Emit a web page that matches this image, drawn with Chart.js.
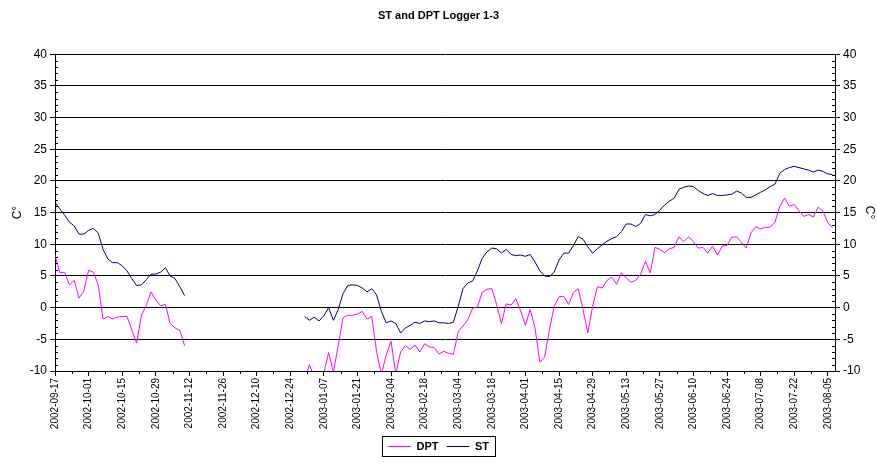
<!DOCTYPE html>
<html>
<head>
<meta charset="utf-8">
<title>ST and DPT Logger 1-3</title>
<script src="https://cdn.jsdelivr.net/npm/chart.js@4.4.1/dist/chart.umd.min.js"></script>
<style>
  html, body { margin: 0; padding: 0; background: #fff; }
  #wrap { width: 877px; height: 462px; }
</style>
</head>
<body>
<div id="wrap"><canvas id="grafico" width="877" height="462"></canvas></div>
<script>

//--------------------------------------------------
// DADOS
//--------------------------------------------------

// one reading every 2 days, starting 2002-09-17 (day 0)
const dayStep = 2;

const tickDates = [
  '2002-09-17', '2002-10-01', '2002-10-15', '2002-10-29', '2002-11-12',
  '2002-11-26', '2002-12-10', '2002-12-24', '2003-01-07', '2003-01-21',
  '2003-02-04', '2003-02-18', '2003-03-04', '2003-03-18', '2003-04-01',
  '2003-04-15', '2003-04-29', '2003-05-13', '2003-05-27', '2003-06-10',
  '2003-06-24', '2003-07-08', '2003-07-22', '2003-08-05'
];

const seriesNames = ['DPT', 'ST'];

const dptValues = [
  // 2002-09-17 .. 2002-11-10
  8.3, 5.5, 5.6, 3.6, 4.3, 1.5, 2.6, 5.9, 5.6, 3.6,
  -1.8, -1.4, -1.8, -1.5, -1.4, -1.4, -3.5, -5.6, -1.2, 0.3,
  2.5, 1.2, 0.3, 0.5, -2.5, -3.2, -3.6, -6.0,
  // no data
  null, null, null, null, null, null, null, null, null, null, null, null,
  null, null, null, null, null, null, null, null, null, null, null, null,
  // 2002-12-30 .. 2003-08-07
  -11.5, -9.0, -11, -12, -10.3, -7.1, -10.2, -6.0, -1.6, -1.2,
  -1.2, -1.0, -0.6, -1.8, -1.4, -7.0, -10.5, -7.5, -5.3, -10.5,
  -7.0, -6.0, -6.6, -5.9, -7.0, -5.7, -6.2, -6.3, -7.3, -6.9,
  -7.2, -7.4, -3.8, -2.9, -1.9, -0.1, 0.1, 2.4, 2.9, 3.0,
  0.5, -2.5, 0.6, 0.4, 1.4, -0.5, -2.8, -0.3, -3.2, -8.6,
  -7.8, -3.5, 0.2, 1.7, 1.8, 0.5, 2.4, 3.0, -0.3, -4.0,
  0.2, 3.3, 3.1, 4.3, 4.8, 3.7, 5.5, 4.7, 4.0, 4.3,
  5.3, 7.3, 5.5, 9.5, 9.2, 8.7, 9.3, 9.5, 11.2, 10.4,
  11.2, 10.4, 9.4, 9.5, 8.6, 9.7, 8.3, 9.7, 9.8, 11.1,
  11.2, 10.3, 9.4, 11.8, 12.8, 12.4, 12.7, 12.7, 13.5, 16.0,
  17.3, 16.0, 16.3, 15.3, 14.4, 14.7, 14.3, 15.9, 15.2, 13.4,
  12.6
];

const stValues = [
  // 2002-09-17 .. 2002-11-10
  16.6, 15.6, 14.6, 13.5, 12.9, 11.6, 11.6, 12.2, 12.5, 11.8,
  9.2, 7.7, 7.1, 7.1, 6.6, 5.8, 4.6, 3.5, 3.6, 4.4,
  5.3, 5.3, 5.6, 6.3, 5.0, 4.6, 3.3, 1.9,
  // no data
  null, null, null, null, null, null, null, null, null, null, null, null,
  null, null, null, null, null, null, null, null, null, null, null, null,
  // 2002-12-30 .. 2003-08-07
  -1.4, -2.0, -1.5, -2.1, -1.3, 0.0, -2.0, -0.3, 2.2, 3.5,
  3.6, 3.5, 3.1, 2.5, 3.0, 2.0, -0.6, -2.4, -2.1, -2.5,
  -4.0, -3.2, -2.8, -2.3, -2.5, -2.1, -2.2, -2.1, -2.4, -2.4,
  -2.5, -2.3, 0.2, 3.0, 3.9, 4.2, 5.8, 7.8, 8.8, 9.4,
  9.3, 8.6, 9.2, 8.4, 8.2, 8.3, 8.1, 8.4, 7.2, 5.8,
  5.0, 4.9, 5.6, 7.5, 8.6, 8.6, 9.8, 11.2, 10.8, 9.6,
  8.6, 9.3, 9.9, 10.5, 10.9, 11.2, 12.0, 13.2, 13.2, 12.8,
  13.3, 14.7, 14.5, 14.7, 15.4, 16.2, 16.8, 17.3, 18.7, 19.0,
  19.2, 19.1, 18.5, 18.0, 17.7, 18.0, 17.7, 17.7, 17.8, 17.9,
  18.4, 18.1, 17.4, 17.4, 17.8, 18.2, 18.6, 19.1, 19.5, 21.2,
  21.8, 22.1, 22.3, 22.1, 21.9, 21.7, 21.4, 21.7, 21.5, 21.1,
  21.0
];

const seriesColors = ['#ff00ff', '#000080'];

//--------------------------------------------------
// PONTOS (x = dia desde 2002-09-17)
//--------------------------------------------------

function toPoints(values) {
  return values.map((v, i) => ({ x: i * dayStep, y: v }));
}

//--------------------------------------------------
// PLUGIN — ticks menores + caixa da legenda
//--------------------------------------------------

const extras = {
  id: 'extras',
  afterDraw(chart) {
    const { ctx, chartArea: { left, right, bottom } } = chart;
    const yScale = chart.scales.y;
    const xScale = chart.scales.x;

    ctx.save();
    ctx.strokeStyle = '#000';
    ctx.lineWidth = 1;
    ctx.beginPath();

    // minor y ticks, inside the plot on both sides
    for (let v = yScale.min; v <= yScale.max; v++) {
      if (v % 5 === 0) continue;
      const py = Math.round(yScale.getPixelForValue(v)) + 0.5;
      ctx.moveTo(left, py);
      ctx.lineTo(left + 3, py);
      ctx.moveTo(right - 3, py);
      ctx.lineTo(right, py);
    }

    // minor x ticks every 7 days
    for (let d = 7; d < xScale.max; d += 14) {
      const px = Math.round(xScale.getPixelForValue(d)) + 0.5;
      ctx.moveTo(px, bottom);
      ctx.lineTo(px, bottom + 3);
    }
    ctx.stroke();

    // legend frame
    const boxes = chart.legend.legendHitBoxes;
    if (boxes && boxes.length) {
      const l = Math.min(...boxes.map(b => b.left)) - 6;
      const r = Math.max(...boxes.map(b => b.left + b.width)) + 6;
      const t = Math.min(...boxes.map(b => b.top)) - 5;
      const b2 = Math.max(...boxes.map(b => b.top + b.height)) + 4;
      ctx.strokeStyle = '#000';
      ctx.strokeRect(Math.round(l) + 0.5, Math.round(t) + 0.5,
                     Math.round(r - l), Math.round(b2 - t));
    }
    ctx.restore();
  }
};

//--------------------------------------------------
// GRÁFICO
//--------------------------------------------------

const fonte = 'Liberation Sans, Arial, sans-serif';

new Chart(document.getElementById('grafico'), {
  type: 'line',
  data: {
    datasets: [
      {
        label: seriesNames[0],
        data: toPoints(dptValues),
        borderColor: seriesColors[0],
        backgroundColor: seriesColors[0],
        borderWidth: 1,
        pointRadius: 0,
        spanGaps: false,
        tension: 0
      },
      {
        label: seriesNames[1],
        data: toPoints(stValues),
        borderColor: seriesColors[1],
        backgroundColor: seriesColors[1],
        borderWidth: 1,
        pointRadius: 0,
        spanGaps: false,
        tension: 0
      }
    ]
  },
  options: {
    responsive: false,
    animation: false,
    events: [],
    layout: { padding: { left: 0, right: 0, top: 0, bottom: 0 } },
    plugins: {
      title: {
        display: true,
        text: 'ST and DPT Logger 1-3',
        color: '#000',
        font: { family: 'Liberation Sans Narrow, ' + fonte, size: 11, weight: 'bold' },
        padding: { top: 9, bottom: 32 }
      },
      legend: {
        position: 'bottom',
        labels: {
          color: '#000',
          font: { family: fonte, size: 11, weight: 'bold' },
          usePointStyle: true,
          pointStyle: 'line',
          pointStyleWidth: 23,
          padding: 8
        }
      },
      tooltip: { enabled: false }
    },
    scales: {
      x: {
        type: 'linear',
        min: 0,
        max: 325,
        afterFit(scale) { scale.height = 62; },
        ticks: {
          stepSize: 14,
          includeBounds: false,
          autoSkip: false,
          minRotation: 90,
          maxRotation: 90,
          color: '#000',
          padding: 2,
          font: { family: fonte, size: 10 },
          callback: v => (v % 14 === 0 ? tickDates[v / 14] : '')
        },
        grid: { drawOnChartArea: false, tickLength: 5, tickColor: '#000' },
        border: { color: '#000' }
      },
      y: {
        position: 'left',
        min: -10,
        max: 40,
        afterFit(scale) { scale.width = 55; },
        ticks: {
          stepSize: 5,
          color: '#000',
          padding: 3,
          font: { family: fonte, size: 12 }
        },
        title: {
          display: true,
          text: 'C°',
          color: '#000',
          font: { family: fonte, size: 12 },
          padding: { top: 10, bottom: 0 }
        },
        grid: { color: '#000', tickLength: 5, tickColor: '#000' },
        border: { color: '#000' }
      },
      y2: {
        position: 'right',
        min: -10,
        max: 40,
        afterFit(scale) { scale.width = 42; },
        ticks: {
          stepSize: 5,
          color: '#000',
          padding: 3,
          font: { family: fonte, size: 12 }
        },
        title: {
          display: true,
          text: 'C°',
          color: '#000',
          font: { family: fonte, size: 12 },
          padding: 0
        },
        grid: { drawOnChartArea: false, tickLength: 5, tickColor: '#000' },
        border: { color: '#000' }
      }
    }
  },
  plugins: [extras]
});

</script>
</body>
</html>
